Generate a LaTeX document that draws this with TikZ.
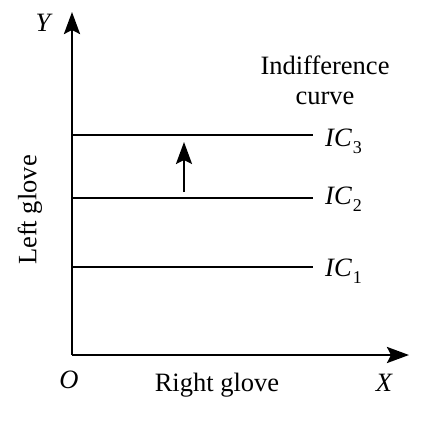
\documentclass[tikz,border=0pt]{standalone}
\usepackage{fontspec}
\setmainfont{Liberation Serif}
\usepackage{tikz}
\usetikzlibrary{arrows.meta, positioning}
\newcommand{\lowsub}[1]{\kern1pt\raisebox{-7pt}{\fontsize{18}{20}\selectfont #1}}

\begin{document}
\begin{tikzpicture}[
    x=1pt, y=-1pt,
    >={Stealth[length=22pt, width=16pt, inset=4pt]},
    axis/.style={line width=2.8pt},
    curve/.style={line width=2.4pt},
    lbl/.style={font=\fontsize{26.5}{30}\selectfont, inner sep=0pt},
]
    \useasboundingbox (0,0) rectangle (427,420);
    % axes
    \coordinate (origin) at (72,355);
    \coordinate (ytop) at (72,12);
    \coordinate (xend) at (409,355);
    \draw[axis, ->] (origin) -- (ytop);
    \draw[axis, ->] (origin) -- (xend);
    \node[lbl, font=\fontsize{26.5}{30}\selectfont\itshape] (ylab) at (43,23) {Y};
    \node[lbl, font=\fontsize{26.5}{30}\selectfont\itshape] (olab) at (69,380) {O};
    \node[lbl, font=\fontsize{26.5}{30}\selectfont\itshape] (xlab) at (384,383) {X};
    \node[lbl] (xname) at (217,385) {Right glove};
    \node[lbl, rotate=90] (yname) at (30,210) {Left glove};
    % indifference curves
    \coordinate (c3) at (72,135);
    \coordinate (c2) at (72,198);
    \coordinate (c1) at (72,267);
    \node[lbl, anchor=base west] (ic3) at (325,146) {\textit{IC}\lowsub{3}};
    \node[lbl, anchor=base west] (ic2) at (325,204) {\textit{IC}\lowsub{2}};
    \node[lbl, anchor=base west] (ic1) at (325,276) {\textit{IC}\lowsub{1}};
    \draw[curve] (c3) -- ++(241,0);
    \draw[curve] (c2) -- ++(241,0);
    \draw[curve] (c1) -- ++(241,0);
    \node[lbl, align=center] (title) at (325,80) {Indifference\\curve};
    % shift
    \coordinate (shiftA) at (184,192);
    \coordinate (shiftB) at (184,142);
    \draw[curve, ->] (shiftA) -- (shiftB);
\end{tikzpicture}
\end{document}
